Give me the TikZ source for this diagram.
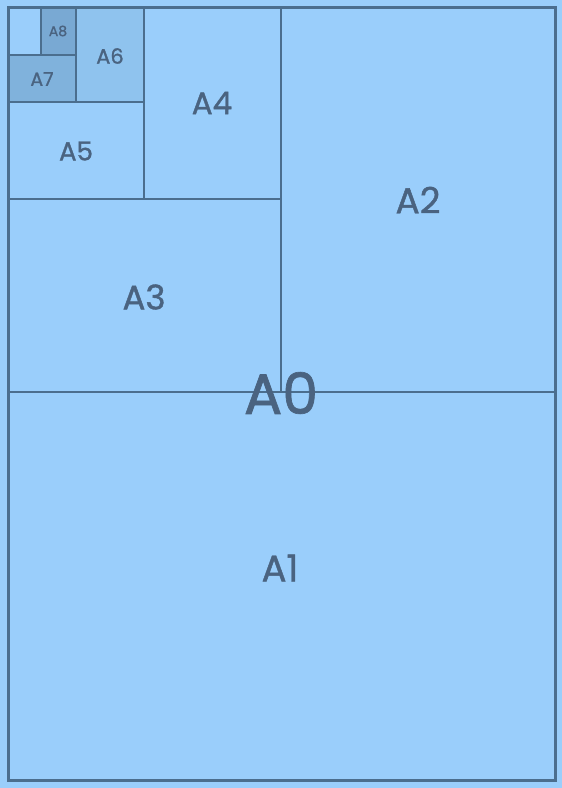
\documentclass[tikz,border=0pt]{standalone}
\usepackage{fontspec}
\setmainfont[FakeBold=1.2]{Poppins}
\definecolor{bg}{HTML}{9ACEFB}
\definecolor{lin}{HTML}{4B6E8E}
\definecolor{txt}{HTML}{4A6380}
\definecolor{fsix}{HTML}{8FC3EE}
\definecolor{fseven}{HTML}{80B2DC}
\definecolor{feight}{HTML}{79A9D3}
\begin{document}
\begin{tikzpicture}[x=1pt,y=-1pt,
  sheet/.style={draw=lin,line width=1.9pt},
  outer/.style={draw=lin,line width=3pt},
  lbl/.style={text=txt,inner sep=0pt,font=#1},
  lbl/.default=\fontsize{30}{30}\selectfont]
\fill[bg] (0,0) rectangle (562,788);
\useasboundingbox (0,0) rectangle (562,788);
% fills
\fill[fsix] (76,7) rectangle (144,102);
\fill[fseven] (8,55) rectangle (76,102);
\fill[feight] (41,7) rectangle (76,55);
% division lines
\coordinate (L1) at (8,392); \coordinate (R1) at (555,392);
\coordinate (T2) at (281,7); \coordinate (B2) at (281,392);
\coordinate (L3) at (8,199); \coordinate (R3) at (281,199);
\coordinate (T4) at (144,7); \coordinate (B4) at (144,199);
\coordinate (L5) at (8,102); \coordinate (R5) at (144,102);
\coordinate (T6) at (76,7); \coordinate (B6) at (76,102);
\coordinate (L7) at (8,55); \coordinate (R7) at (76,55);
\coordinate (T8) at (41,7); \coordinate (B8) at (41,55);
\draw[sheet] (L1) -- (R1);
\draw[sheet] (T2) -- (B2);
\draw[sheet] (L3) -- (R3);
\draw[sheet] (T4) -- (B4);
\draw[sheet] (L5) -- (R5);
\draw[sheet,line width=2.4pt] (T6) -- (B6);
\draw[sheet,line width=2.4pt] (L7) -- (R7);
\draw[sheet,line width=2.4pt] (T8) -- (B8);
\draw[outer] (8,7) rectangle (555,780);
% labels
\node[lbl=\fontsize{57}{57}\selectfont] (a0) at (281,393) {A0};
\node[lbl=\fontsize{37}{37}\selectfont] (a1) at (280,568) {A1};
\node[lbl=\fontsize{36}{36}\selectfont] (a2) at (418,200) {A2};
\node[lbl=\fontsize{34}{34}\selectfont] (a3) at (144,297) {A3};
\node[lbl=\fontsize{31}{31}\selectfont] (a4) at (212,103) {A4};
\node[lbl=\fontsize{26}{26}\selectfont] (a5) at (76,151) {A5};
\node[lbl=\fontsize{21}{21}\selectfont] (a6) at (110,56) {A6};
\node[lbl=\fontsize{19}{19}\selectfont] (a7) at (42,79) {A7};
\node[lbl=\fontsize{14}{14}\selectfont] (a8) at (58,31) {A8};
\end{tikzpicture}
\end{document}
